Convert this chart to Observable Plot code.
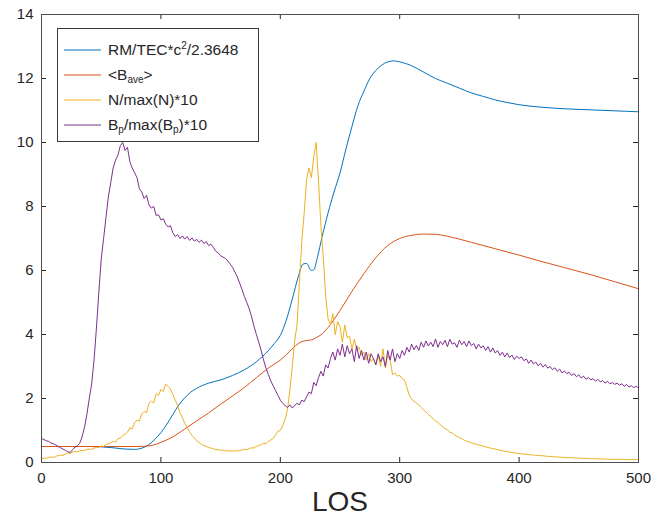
<!DOCTYPE html>
<html>
<head>
<meta charset="utf-8">
<script src="https://cdn.jsdelivr.net/npm/d3@7"></script>
<script src="https://cdn.jsdelivr.net/npm/@observablehq/plot@0.6"></script>
<style>
  body { margin: 0; background: #fff; }
  #chart { position: relative; width: 652px; height: 527px; font-family: "Liberation Sans", Arial, Helvetica, sans-serif; }
  #legend {
    position: absolute; left: 57px; top: 28px; width: 202px; height: 114px;
    box-sizing: border-box; border: 1px solid #3a3a3a; background: #fff;
    padding-top: 8px; color: #262626; font-size: 15.5px;
  }
  #legend .row { position: relative; height: 25px; line-height: 25px; }
  #legend svg { position: absolute; left: 6px; top: 12px; }
  #legend span.lab { position: absolute; left: 50px; top: 0; white-space: nowrap; }
  #legend sub { font-size: 10px; vertical-align: -3px; line-height: 0; }
  #legend sup { font-size: 10px; vertical-align: 6px; line-height: 0; }
</style>
</head>
<body>
<div id="chart"></div>
<script>
// Line-of-sight grid (cells 0..500, sampled every 2)
const los = d3.range(0, 501, 2);

// RM/TEC*c^2/2.3648 — smooth profile, sampled at these LOS positions
const rmLos = [0,20,40,50,60,70,78,85,90,95,100,105,110,115,120,125,130,140,150,160,170,180,190,195,200,205,210,215,219,222,226,228,231,235,240,245,250,255,260,265,270,275,280,285,290,295,300,310,320,330,340,350,360,370,380,390,400,420,440,460,480,500];
const rmVal = [0.5,0.5,0.5,0.49,0.46,0.42,0.41,0.46,0.56,0.73,0.93,1.2,1.5,1.8,2.02,2.2,2.32,2.48,2.58,2.72,2.9,3.15,3.5,3.72,3.97,4.45,5.1,5.8,6.2,6.22,6.0,6.02,6.4,7.05,7.8,8.45,9.05,9.8,10.5,11.15,11.6,12.0,12.25,12.42,12.52,12.55,12.52,12.4,12.2,12.0,11.85,11.7,11.55,11.44,11.33,11.25,11.18,11.1,11.05,11.02,10.99,10.96];

// <B_ave> — smooth profile
const bLos = [0,40,80,90,95,100,110,120,130,140,150,160,170,180,190,200,210,215,220,226,230,235,240,250,260,270,280,290,300,310,320,330,340,350,360,380,400,420,440,460,480,500];
const bVal = [0.5,0.5,0.5,0.52,0.56,0.63,0.8,1.05,1.3,1.55,1.82,2.08,2.35,2.65,2.95,3.2,3.55,3.72,3.8,3.83,3.9,4.02,4.22,4.75,5.35,5.9,6.4,6.78,7.0,7.1,7.14,7.13,7.07,6.98,6.88,6.68,6.48,6.27,6.07,5.87,5.65,5.43];

// N/max(N)*10 on the los grid
const nNorm = [
  0.12,0.14,0.13,0.16,0.17,0.16,0.20,0.21,0.23,0.22,
  0.27,0.30,0.29,0.33,0.34,0.33,0.37,0.38,0.37,0.41,
  0.42,0.41,0.45,0.47,0.46,0.52,0.50,0.57,0.58,0.62,
  0.66,0.64,0.74,0.76,0.84,0.88,0.95,1.08,1.05,1.25,
  1.32,1.30,1.52,1.60,1.55,1.85,1.92,1.86,2.15,2.10,
  2.28,2.22,2.45,2.38,2.30,2.12,1.95,1.78,1.55,1.40,
  1.22,1.10,0.96,0.85,0.77,0.68,0.62,0.57,0.53,0.50,
  0.47,0.45,0.42,0.41,0.40,0.38,0.39,0.37,0.36,0.37,
  0.35,0.37,0.36,0.38,0.39,0.41,0.40,0.43,0.46,0.45,
  0.51,0.52,0.56,0.60,0.59,0.66,0.70,0.75,0.86,0.98,
  1.00,1.15,1.35,1.65,2.25,3.00,3.80,4.30,5.60,6.90,
  7.80,8.85,9.20,8.90,9.55,10.00,8.80,7.40,6.40,5.20,
  4.50,4.30,4.65,4.00,4.40,4.25,3.75,4.30,3.90,3.95,
  3.55,3.85,3.50,3.60,3.35,3.45,3.20,3.40,3.15,3.25,
  3.05,3.35,3.00,3.55,2.95,3.35,3.20,2.75,2.80,2.70,
  2.72,2.62,2.58,2.35,2.10,1.98,1.92,1.86,1.80,1.72,
  1.64,1.58,1.50,1.44,1.36,1.30,1.25,1.18,1.12,1.06,
  1.02,0.95,0.92,0.86,0.82,0.78,0.74,0.70,0.67,0.64,
  0.62,0.59,0.57,0.55,0.53,0.51,0.49,0.47,0.45,0.43,
  0.42,0.40,0.38,0.37,0.35,0.34,0.33,0.31,0.30,0.29,
  0.28,0.27,0.26,0.26,0.25,0.24,0.23,0.23,0.22,0.21,
  0.21,0.20,0.19,0.19,0.18,0.18,0.17,0.17,0.16,0.16,
  0.15,0.15,0.15,0.14,0.14,0.14,0.13,0.13,0.13,0.12,
  0.12,0.12,0.12,0.11,0.11,0.11,0.11,0.10,0.10,0.10,
  0.10,0.10,0.10,0.10,0.09,0.09,0.09,0.09,0.09,0.09,
  0.09
];

// B_p/max(B_p)*10 on the los grid
const bpNorm = [
  0.75,0.72,0.68,0.66,0.61,0.58,0.55,0.50,0.46,0.42,
  0.38,0.34,0.31,0.40,0.48,0.52,0.60,0.80,1.10,1.50,
  2.00,2.45,3.20,4.20,5.30,6.35,7.00,7.65,8.30,8.75,
  9.20,9.45,9.60,9.90,10.00,9.75,9.85,9.40,9.20,9.05,
  8.90,8.55,8.45,8.25,8.35,8.05,7.95,8.00,7.72,7.74,
  7.58,7.62,7.45,7.36,7.40,7.18,7.06,7.12,7.00,7.08,
  6.98,7.06,6.94,7.02,6.92,6.97,6.88,6.95,6.84,6.90,
  6.78,6.82,6.72,6.60,6.55,6.46,6.42,6.38,6.30,6.20,
  6.10,5.95,5.80,5.60,5.40,5.18,5.00,4.80,4.55,4.25,
  4.00,3.75,3.50,3.20,2.95,2.75,2.55,2.40,2.25,2.10,
  1.95,1.85,1.78,1.72,1.80,1.70,1.78,1.85,1.80,1.95,
  1.90,2.05,2.20,2.15,2.50,2.40,2.65,2.85,2.70,3.05,
  2.95,3.25,3.45,3.20,3.55,3.35,3.70,3.30,3.65,3.40,
  3.55,3.15,3.65,3.25,3.50,3.20,3.45,3.10,3.40,3.25,
  3.05,3.40,3.15,3.30,3.00,3.50,3.20,3.55,3.15,3.40,
  3.25,3.50,3.35,3.60,3.45,3.70,3.52,3.66,3.50,3.76,
  3.60,3.80,3.64,3.76,3.62,3.86,3.60,3.78,3.68,3.82,
  3.62,3.85,3.70,3.74,3.60,3.82,3.68,3.78,3.62,3.80,
  3.65,3.72,3.55,3.70,3.58,3.65,3.50,3.62,3.45,3.58,
  3.42,3.50,3.35,3.45,3.30,3.42,3.28,3.36,3.22,3.32,
  3.25,3.30,3.18,3.24,3.10,3.20,3.08,3.14,3.02,3.10,
  2.98,3.06,2.95,3.00,2.90,2.96,2.85,2.92,2.80,2.86,
  2.78,2.82,2.72,2.78,2.68,2.74,2.64,2.70,2.60,2.66,
  2.58,2.62,2.54,2.60,2.52,2.56,2.48,2.54,2.46,2.50,
  2.44,2.48,2.42,2.46,2.38,2.44,2.36,2.40,2.34,2.38,
  2.33
];

const xTicks = [0, 100, 200, 300, 400, 500];
const yTicks = [0, 2, 4, 6, 8, 10, 12, 14];

const colors = {rm: "#0072BD", bave: "#D95319", n: "#EDB120", bp: "#7E2F8E"};

const W = 652, H = 527;
const M = {top: 14, right: 14, bottom: 65, left: 41};
const innerW = W - M.left - M.right;
const innerH = H - M.top - M.bottom;
const tick = 5;
const axisColor = "#262626";

const rmRows = rmLos.map((x, i) => ({x, y: rmVal[i]}));
const bRows = bLos.map((x, i) => ({x, y: bVal[i]}));
const nRows = los.map((x, i) => ({x, y: nNorm[i]}));
const bpRows = los.map((x, i) => ({x, y: bpNorm[i]}));

const chart = Plot.plot({
  width: W,
  height: H,
  marginTop: M.top,
  marginRight: M.right,
  marginBottom: M.bottom,
  marginLeft: M.left,
  style: {fontFamily: '"Liberation Sans", Arial, Helvetica, sans-serif', fontSize: "15px", color: axisColor, background: "#fff"},
  x: {domain: [0, 500]},
  y: {domain: [0, 14]},
  marks: [
    Plot.line(rmRows, {x: "x", y: "y", stroke: colors.rm, strokeWidth: 1, curve: "monotone-x"}),
    Plot.line(bRows, {x: "x", y: "y", stroke: colors.bave, strokeWidth: 1, curve: "monotone-x"}),
    Plot.line(nRows, {x: "x", y: "y", stroke: colors.n, strokeWidth: 1}),
    Plot.line(bpRows, {x: "x", y: "y", stroke: colors.bp, strokeWidth: 1}),
    // inward-pointing ticks on all four sides
    Plot.ruleX(xTicks, {x: d => d, insetTop: innerH - tick, stroke: axisColor}),
    Plot.ruleX(xTicks, {x: d => d, insetBottom: innerH - tick, stroke: axisColor}),
    Plot.ruleY(yTicks, {y: d => d, insetRight: innerW - tick, stroke: axisColor}),
    Plot.ruleY(yTicks, {y: d => d, insetLeft: innerW - tick, stroke: axisColor}),
    Plot.axisX({ticks: xTicks, tickSize: 0, tickPadding: 10, label: null, fill: axisColor}),
    Plot.axisY({ticks: yTicks, tickSize: 0, tickPadding: 8, label: null, fill: axisColor}),
    Plot.frame({stroke: "#4d4d4d"}),
    Plot.text(["LOS"], {frameAnchor: "bottom", dy: 48, fontSize: 28, fill: axisColor})
  ]
});

const root = document.getElementById("chart");
root.appendChild(chart);

// legend box in the upper-left corner of the axes
const entries = [
  {color: colors.rm, html: "RM/TEC*c<sup>2</sup>/2.3648"},
  {color: colors.bave, html: "&lt;B<sub>ave</sub>&gt;"},
  {color: colors.n, html: "N/max(N)*10"},
  {color: colors.bp, html: "B<sub>p</sub>/max(B<sub>p</sub>)*10"}
];
const legend = document.createElement("div");
legend.id = "legend";
legend.innerHTML = entries.map(e =>
  `<div class="row"><svg width="37" height="2"><line x1="0" x2="37" y1="1" y2="1" stroke="${e.color}" stroke-width="1"/></svg><span class="lab">${e.html}</span></div>`
).join("");
root.appendChild(legend);
</script>
</body>
</html>
